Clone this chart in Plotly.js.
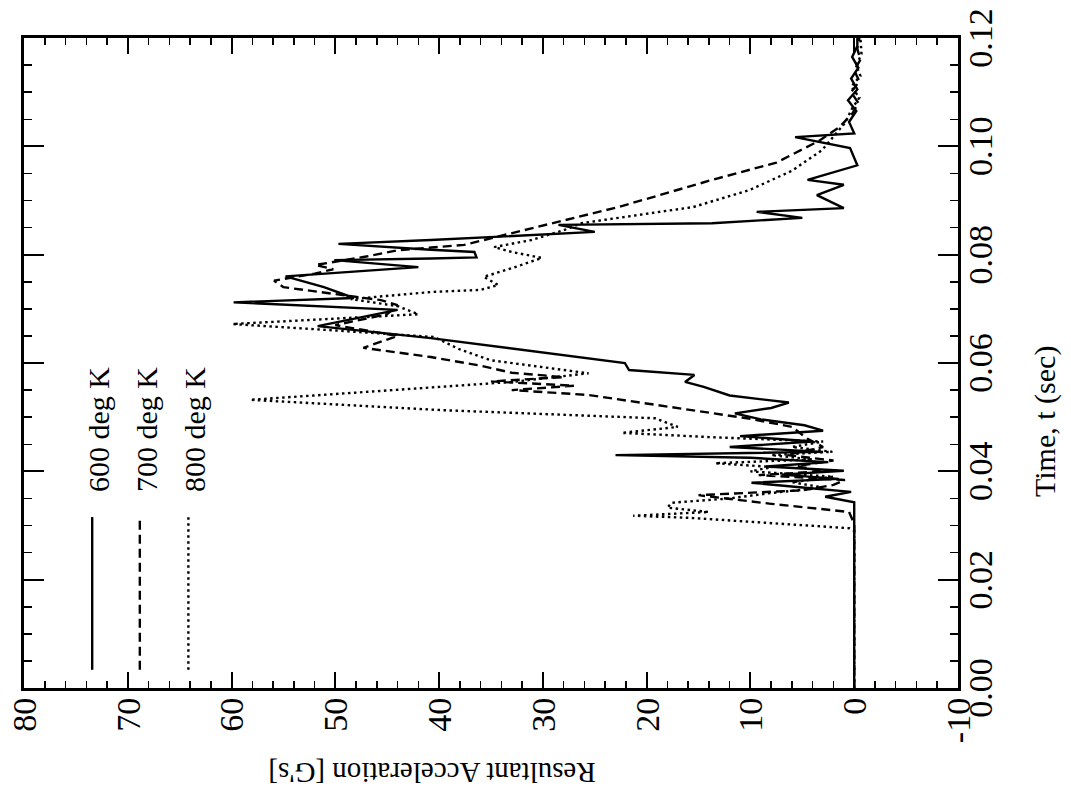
<!DOCTYPE html>
<html>
<head>
<meta charset="utf-8">
<script src="https://cdn.plot.ly/plotly-3.0.1.min.js"></script>
<style>
html,body{margin:0;padding:0;background:#fff;overflow:hidden;width:1071px;height:791px;}
#wrap{position:absolute;left:0;top:0;width:791px;height:1071px;transform-origin:0 0;transform:translate(0px,791px) rotate(-90deg);}
#plot{width:791px;height:1071px;}
</style>
</head>
<body>
<div id="wrap"><div id="plot"></div></div>
<script>
// Series names
const seriesNames = ["600 deg K", "700 deg K", "800 deg K"];

// 600 deg K (solid)
const time600 = [0, 0.0343, 0.0353, 0.0362, 0.0371, 0.0379, 0.0386, 0.0394, 0.0401, 0.0409, 0.0417, 0.0425, 0.0430, 0.0436, 0.0445, 0.0455, 0.0465, 0.0475, 0.0485, 0.0496, 0.0507, 0.0517, 0.0527, 0.0540, 0.0556, 0.0565, 0.0578, 0.0587, 0.0600, 0.0630, 0.0646, 0.0668, 0.0698, 0.0712, 0.0720, 0.0740, 0.0760, 0.0777, 0.0790, 0.0793, 0.0795, 0.0805, 0.0809, 0.0820, 0.0827, 0.0842, 0.0855, 0.0858, 0.0868, 0.0879, 0.0886, 0.0910, 0.0929, 0.0938, 0.0965, 0.0997, 0.1017, 0.1024, 0.1045, 0.1065, 0.1085, 0.1105, 0.1125, 0.1145, 0.1165, 0.1185, 0.1200];
const acc600 = [0, 0, 2.8, 0.3, 5.5, 9.9, 1.5, 7, 1, 8.5, 2.5, 10, 23, 3, 12, 4, 11, 3, 4.8, 9, 11.5, 8, 6.3, 12, 14.5, 16.3, 15.4, 21.7, 22.1, 34, 40.8, 51.7, 44, 59.8, 48.2, 51.1, 54.8, 42, 50.1, 40.8, 36.4, 36.6, 40.8, 49.7, 40.8, 25, 28.5, 13.7, 5, 9.4, 1, 3.6, 1, 4.5, -0.3, 0.4, 5.7, 0, 0.5, -0.2, 0.6, -0.3, 0.3, -0.4, 0.2, -0.3, -0.3];

// 700 deg K (dashed)
const time700 = [0, 0.0303, 0.0325, 0.0340, 0.0356, 0.0365, 0.0375, 0.0384, 0.0393, 0.0400, 0.0410, 0.0420, 0.0430, 0.0445, 0.0460, 0.0482, 0.0497, 0.0513, 0.0525, 0.0541, 0.0550, 0.0558, 0.0566, 0.0574, 0.0582, 0.0595, 0.0611, 0.0628, 0.0650, 0.0670, 0.0690, 0.0707, 0.0716, 0.0740, 0.0752, 0.0765, 0.0773, 0.0781, 0.0797, 0.0808, 0.0818, 0.0858, 0.0888, 0.0938, 0.0970, 0.1010, 0.1036, 0.1060, 0.1080, 0.1100, 0.1120, 0.1140, 0.1160, 0.1180, 0.1200];
const acc700 = [0, 0, 0.5, 8, 15, 5, 2, 0.9, 9.2, 3, 5.5, 2, 6.5, 3, 4.5, 6, 10, 15.7, 20, 25.6, 33, 27, 35, 28, 33, 36, 40.8, 47.3, 44, 50, 45, 44, 45.6, 55, 55.9, 52, 50.2, 51.9, 46.9, 44, 37.6, 29.2, 22.7, 13.7, 7.5, 3.4, 1.4, 0.2, -0.4, 0.3, -0.5, 0, -0.6, -0.3, -0.5];

// 800 deg K (dotted)
const time800 = [0, 0.0290, 0.0295, 0.0314, 0.0318, 0.0325, 0.0333, 0.0342, 0.0350, 0.0360, 0.0370, 0.0380, 0.0390, 0.0400, 0.0408, 0.0415, 0.0422, 0.0430, 0.0436, 0.0445, 0.0455, 0.0463, 0.0471, 0.0482, 0.0498, 0.0513, 0.0532, 0.0546, 0.0556, 0.0565, 0.0581, 0.0592, 0.0605, 0.0625, 0.0648, 0.0660, 0.0672, 0.0690, 0.0705, 0.0718, 0.0731, 0.0735, 0.0744, 0.0759, 0.0775, 0.0794, 0.0805, 0.0814, 0.0827, 0.0845, 0.0858, 0.0888, 0.0920, 0.0955, 0.0993, 0.1043, 0.1070, 0.1090, 0.1110, 0.1130, 0.1150, 0.1170, 0.1200];
const acc800 = [0, 0, 0.5, 15.7, 21.3, 14, 18, 17.6, 12, 8, 3, 6, 2, 10, 7.9, 13.4, 4, 8, 2.1, 6, 3, 13.7, 22.4, 17, 19.2, 39.8, 58.2, 47.5, 40.8, 33, 25.6, 30, 35, 38, 40.5, 50, 59.9, 42, 44, 48.5, 40.8, 36, 34.3, 35.7, 33, 30.1, 33, 34.7, 31.1, 28, 26.3, 15.5, 10, 6, 3.1, 0.9, 0.2, -0.5, 0.3, -0.6, -0.2, -0.7, -0.6];

// Axis ticks
const accTickVals = [80, 70, 60, 50, 40, 30, 20, 10, 0, -10];
const accTickText = ["80", "70", "60", "50", "40", "30", "20", "10", "0", "-10"];
const timeTickVals = [0, 0.02, 0.04, 0.06, 0.08, 0.10, 0.12];
const timeTickText = ["0.00", "0.02", "0.04", "0.06", "0.08", "0.10", "0.12"];

const FONT = "Liberation Serif, Times New Roman, serif";
const dashes = ["solid", "9px,5px", "2.5px,3.5px"];
const widths = [2.4, 2.4, 2.4];
const xs = [time600, time700, time800];
const ys = [acc600, acc700, acc800];

const traces = seriesNames.map((n, i) => ({
  type: "scatter", mode: "lines", name: n,
  x: xs[i], y: ys[i],
  line: {color: "black", width: widths[i], dash: dashes[i]}
}));

// manual legend (long line samples like the original)
const legY = [0.927, 0.876, 0.824];
const shapes = [];
const annotations = [];
seriesNames.forEach((n, i) => {
  shapes.push({type: "line", xref: "paper", yref: "paper", x0: 0.028, x1: 0.263, y0: legY[i], y1: legY[i],
    line: {color: "black", width: 2.4, dash: dashes[i]}});
  annotations.push({xref: "paper", yref: "paper", x: 0.298, y: legY[i] - 0.007, xanchor: "left", yanchor: "middle",
    text: n, showarrow: false, font: {family: FONT, size: 30, color: "black"}});
});
annotations.push({xref: "paper", yref: "paper", x: 0.41, y: -0.093, xanchor: "center", yanchor: "middle",
  text: "Time, t (sec)", showarrow: false, font: {family: FONT, size: 30, color: "black"}});
annotations.push({xref: "paper", yref: "paper", x: -0.13, y: 0.563, xanchor: "center", yanchor: "middle", textangle: -90,
  text: "Resultant Acceleration [G's]", showarrow: false, font: {family: FONT, size: 29, color: "black"}});

const layout = {
  width: 791, height: 1071,
  margin: {l: 103, r: 38, t: 24, b: 113},
  paper_bgcolor: "white", plot_bgcolor: "white",
  showlegend: false,
  font: {family: FONT, color: "black", size: 28},
  xaxis: {
    range: [0, 0.12], tickvals: timeTickVals, ticktext: timeTickText,
    ticks: "inside", ticklen: 20, tickwidth: 2, tickcolor: "black",
    showline: true, linewidth: 3, linecolor: "black", mirror: "ticks",
    showgrid: false, zeroline: false, automargin: false,
    ticklabelstandoff: -10,
    tickfont: {family: FONT, size: 34, color: "black"},
    minor: {dtick: 0.005, tick0: 0, ticks: "inside", ticklen: 8, tickwidth: 1.5, tickcolor: "black", showgrid: false}
  },
  yaxis: {
    range: [-10, 80], tickvals: accTickVals, ticktext: accTickText,
    ticks: "inside", ticklen: 16, tickwidth: 2, tickcolor: "black",
    showline: true, linewidth: 3, linecolor: "black", mirror: "ticks",
    showgrid: false, zeroline: false, automargin: false,
    tickfont: {family: FONT, size: 34, color: "black"},
    minor: {dtick: 2, tick0: 0, ticks: "inside", ticklen: 7, tickwidth: 1.5, tickcolor: "black", showgrid: false}
  },
  shapes: shapes,
  annotations: annotations
};

Plotly.newPlot("plot", traces, layout, {staticPlot: true, displayModeBar: false});
</script>
</body>
</html>
